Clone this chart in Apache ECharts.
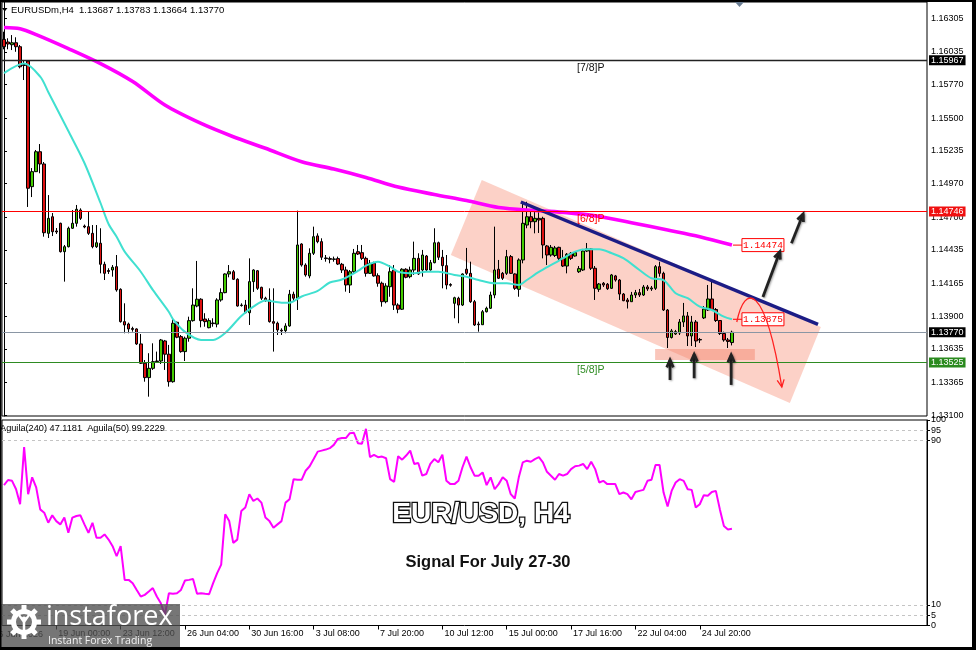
<!DOCTYPE html>
<html><head><meta charset="utf-8">
<script src="https://cdn.jsdelivr.net/npm/echarts@6/dist/echarts.min.js"></script>
<style>html,body{margin:0;padding:0;background:#fff}#c{width:976px;height:650px}</style>
</head><body><div id="c"></div>
<script>
// ---- data (OHLC rows: open, high, low, close) ----
const ohlc = [
[1.16135,1.16197,1.16055,1.16076],[1.16114,1.16144,1.16055,1.16098],[1.16092,1.16170,1.16049,1.16108],[1.16108,1.16152,1.16035,1.16076],[1.16076,1.16090,1.15901,1.15914],
[1.15932,1.15963,1.15807,1.15924],[1.15960,1.15963,1.14782,1.14933],[1.14946,1.15096,1.14862,1.15067],[1.15067,1.15242,1.15064,1.15228],[1.15228,1.15290,1.15054,1.15129],
[1.15129,1.15145,1.14542,1.14574],[1.14569,1.14878,1.14531,1.14690],[1.14703,1.14733,1.14547,1.14582],[1.14588,1.14612,1.14564,1.14580],[1.14650,1.14655,1.14414,1.14421],
[1.14421,1.14475,1.14179,1.14461],[1.14461,1.14623,1.14455,1.14610],[1.14610,1.14757,1.14604,1.14650],[1.14650,1.14798,1.14623,1.14763],[1.14757,1.14771,1.14677,1.14690],
[1.14628,1.14640,1.14610,1.14620],[1.14623,1.14744,1.14556,1.14569],[1.14569,1.14636,1.14448,1.14461],[1.14461,1.14636,1.14451,1.14493],[1.14489,1.14610,1.14246,1.14319],
[1.14319,1.14340,1.14192,1.14246],[1.14269,1.14287,1.14241,1.14261],[1.14273,1.14313,1.14219,1.14295],[1.14300,1.14394,1.14098,1.14112],[1.14117,1.14125,1.13848,1.13856],
[1.13856,1.14004,1.13762,1.13829],[1.13837,1.13848,1.13762,1.13797],[1.13801,1.13815,1.13775,1.13793],[1.13797,1.13802,1.13668,1.13676],[1.13676,1.13756,1.13514,1.13520],
[1.13520,1.13546,1.13371,1.13404],[1.13404,1.13601,1.13250,1.13479],[1.13479,1.13681,1.13466,1.13533],[1.13533,1.13614,1.13526,1.13538],[1.13538,1.13716,1.13514,1.13708],
[1.13700,1.13708,1.13466,1.13593],[1.13593,1.13668,1.13331,1.13371],[1.13371,1.13883,1.13363,1.13843],[1.13851,1.13856,1.13722,1.13730],[1.13735,1.13748,1.13605,1.13614],
[1.13614,1.13735,1.13538,1.13722],[1.13722,1.13896,1.13694,1.13864],[1.13864,1.14125,1.13856,1.13990],[1.13982,1.14346,1.13972,1.14037],[1.14037,1.14045,1.13810,1.13864],
[1.13877,1.13924,1.13815,1.13856],[1.13807,1.13883,1.13802,1.13864],[1.13845,1.13883,1.13815,1.13840],[1.13836,1.14045,1.13810,1.14031],[1.14031,1.14125,1.14017,1.14090],
[1.14090,1.14246,1.14085,1.14241],[1.14241,1.14313,1.14214,1.14259],[1.14259,1.14273,1.14192,1.14198],[1.14198,1.14206,1.13977,1.13982],[1.13986,1.14004,1.13977,1.13990],
[1.13990,1.14031,1.13924,1.13928],[1.13928,1.14367,1.13829,1.14179],[1.14179,1.14279,1.14096,1.14273],[1.14267,1.14273,1.14112,1.14125],[1.14133,1.14138,1.14031,1.14045],
[1.14045,1.14057,1.14017,1.14025],[1.14031,1.14125,1.13848,1.13856],[1.13856,1.14125,1.13614,1.13843],[1.13843,1.13856,1.13748,1.13789],[1.13787,1.13802,1.13748,1.13781],
[1.13783,1.13843,1.13762,1.13821],[1.13821,1.14112,1.13815,1.14077],[1.14077,1.14098,1.14017,1.14045],[1.14045,1.14752,1.13950,1.14475],[1.14483,1.14489,1.14300,1.14313],
[1.14313,1.14327,1.14219,1.14233],[1.14225,1.14448,1.14206,1.14408],[1.14408,1.14623,1.14394,1.14542],[1.14548,1.14569,1.14489,1.14502],[1.14502,1.14529,1.14354,1.14376],
[1.14370,1.14394,1.14340,1.14365],[1.14365,1.14381,1.14327,1.14359],[1.14359,1.14381,1.14340,1.14362],[1.14365,1.14381,1.14313,1.14321],[1.14319,1.14330,1.14249,1.14273],
[1.14273,1.14300,1.14098,1.14152],[1.14152,1.14273,1.14087,1.14259],[1.14259,1.14443,1.14249,1.14408],[1.14421,1.14475,1.14394,1.14402],[1.14413,1.14475,1.14354,1.14367],
[1.14367,1.14381,1.14219,1.14246],[1.14246,1.14354,1.14241,1.14327],[1.14327,1.14340,1.14219,1.14225],[1.14227,1.14246,1.14138,1.14166],[1.14166,1.14179,1.13977,1.14017],
[1.14017,1.14166,1.14004,1.14144],[1.14138,1.14313,1.14057,1.14259],[1.14273,1.14313,1.13950,1.13990],[1.13990,1.14004,1.13924,1.13956],[1.13956,1.14287,1.13950,1.14279],
[1.14279,1.14287,1.14206,1.14214],[1.14219,1.14300,1.14206,1.14273],[1.14273,1.14502,1.14233,1.14367],[1.14367,1.14408,1.14233,1.14241],[1.14273,1.14435,1.14219,1.14394],
[1.14386,1.14394,1.14259,1.14273],[1.14273,1.14354,1.14267,1.14332],[1.14332,1.14610,1.14327,1.14493],[1.14493,1.14502,1.14354,1.14376],[1.14376,1.14435,1.14125,1.14308],
[1.14308,1.14394,1.14117,1.14152],[1.14156,1.14166,1.14138,1.14150],[1.14004,1.14057,1.13883,1.14049],[1.14045,1.14057,1.13843,1.13990],[1.13990,1.14246,1.13982,1.14241],
[1.14279,1.14451,1.14233,1.14246],[1.14246,1.14340,1.14007,1.14017],[1.14017,1.14031,1.13821,1.13829],[1.13837,1.13856,1.13775,1.13831],[1.13831,1.13950,1.13829,1.13936],
[1.13936,1.13977,1.13930,1.13964],[1.13964,1.14098,1.13958,1.14071],[1.14071,1.14623,1.14045,1.14273],[1.14279,1.14354,1.14200,1.14206],[1.14246,1.14257,1.14192,1.14206],
[1.14246,1.14435,1.14233,1.14381],[1.14381,1.14394,1.14241,1.14246],[1.14241,1.14246,1.14112,1.14125],[1.14117,1.14367,1.14057,1.14354],[1.14354,1.14824,1.14327,1.14650],
[1.14636,1.14824,1.14610,1.14703],[1.14703,1.14757,1.14610,1.14663],[1.14663,1.14771,1.14569,1.14690],[1.14690,1.14766,1.14572,1.14677],[1.14690,1.14703,1.14367,1.14475],
[1.14467,1.14475,1.14313,1.14394],[1.14394,1.14475,1.14381,1.14456],[1.14390,1.14467,1.14378,1.14451],[1.14456,1.14461,1.14354,1.14367],[1.14367,1.14435,1.14297,1.14305],
[1.14305,1.14410,1.14246,1.14400],[1.14408,1.14418,1.14354,1.14367],[1.14386,1.14426,1.14381,1.14413],[1.14259,1.14305,1.14249,1.14284],[1.14273,1.14443,1.14265,1.14426],
[1.14426,1.14491,1.14418,1.14443],[1.14443,1.14448,1.14273,1.14287],[1.14287,1.14305,1.14031,1.14125],[1.14117,1.14168,1.14096,1.14160],[1.14166,1.14176,1.14136,1.14152],
[1.14158,1.14168,1.14112,1.14122],[1.14125,1.14241,1.14120,1.14233],[1.14225,1.14233,1.14179,1.14192],[1.14192,1.14200,1.14031,1.14079],[1.14079,1.14087,1.14021,1.14025],
[1.14031,1.14047,1.13962,1.14017],[1.14017,1.14096,1.14015,1.14071],[1.14071,1.14112,1.14047,1.14090],[1.14090,1.14120,1.14055,1.14071],[1.14071,1.14152,1.14063,1.14136],
[1.14136,1.14152,1.14104,1.14120],[1.14120,1.14144,1.14104,1.14128],[1.14125,1.14313,1.14112,1.14300],[1.14300,1.14340,1.14219,1.14246],[1.14246,1.14259,1.13942,1.13950],
[1.13950,1.13958,1.13643,1.13728],[1.13728,1.13797,1.13720,1.13781],[1.13756,1.13789,1.13748,1.13775],[1.13764,1.13877,1.13748,1.13853],[1.13853,1.14007,1.13813,1.13902],
[1.13902,1.13934,1.13659,1.13740],[1.13740,1.13902,1.13659,1.13853],[1.13853,1.13869,1.13651,1.13700],[1.13712,1.13724,1.13684,1.13708],[1.13886,1.13982,1.13877,1.13958],
[1.13950,1.14152,1.13942,1.14039],[1.14039,1.14176,1.13942,1.13954],[1.13954,1.13966,1.13853,1.13865],[1.13865,1.13869,1.13748,1.13760],[1.13760,1.13775,1.13694,1.13708],
[1.13708,1.13724,1.13643,1.13696],[1.13687,1.13783,1.13664,1.13770]
];
// Aguila(240) oscillator, one value per bar
const aguila240 = [
68.3,70.8,70.4,66.3,59,86.8,63.9,72.1,67.2,56.5,
54.9,50,53.6,50.8,49.2,52.5,45.1,52.5,53.3,53.6,
49.2,45.1,50,42.7,42.7,44.3,41.8,38.6,33.7,38.6,
22.2,22.2,20.6,17.3,14.1,14.9,16.5,18.2,14.1,10.8,
5.1,15.7,15.4,15.7,17.3,21.9,22.2,22.6,15.4,15.7,
15.4,15.2,20.6,25.5,29.6,54.1,50.8,40.2,41.8,55.7,
57.4,63.9,60.6,61.8,59.8,52.5,50.8,47.6,49.2,50.8,
59.8,61.4,71.2,70.9,70.9,75.3,77.5,81,84.6,85.1,
85.6,86.3,87.9,90.8,91.2,91.2,93.6,93.8,88.7,88.4,
95.7,81.9,83,81.9,82.2,81.4,71.2,69.9,82.4,80.7,
82.7,85.1,78.6,79.1,72.9,73.7,78.6,81,79.4,83.1,
70.4,68.8,68.8,70.4,77,82.2,77,72.9,72.9,74.5,
68.3,72.1,66.3,68.8,72.1,70.4,63.9,61.8,72.1,79.4,
80.2,79.7,81,81.9,79.4,74.8,72.9,70.9,73.7,72.9,
73.7,76.1,77.5,77.8,78.6,76.1,79.7,76.1,69.6,70.4,
68.8,68.8,68.8,63.9,64.7,63.9,61.4,65,65.5,66,
70.4,70.9,78.1,78.1,64.7,57.9,65.5,69.6,71.2,70.4,
66.3,66,57.4,59,63.4,63.1,65,65.5,56.5,48.4,
46.7,47.1
];
// moving averages read at sample bars: [bar index, value]
const maSlow = [[0,1.16231],[4,1.16221],[8,1.16174],[16,1.16061],[24,1.15940],[32,1.15795],[40,1.15605],[49,1.15456],[57,1.15349],[65,1.15256],[74,1.15147],[82,1.15088],[90,1.15020],[98,1.14943],[107,1.14883],[115,1.14834],[123,1.14778],[132,1.14753],[140,1.14736],[148,1.14705],[156,1.14655],[165,1.14596],[173,1.14542],[181,1.14474]];
const maFast = [[0,1.15863],[5,1.15940],[9,1.15834],[11,1.15710],[16,1.15395],[20,1.15137],[24,1.14814],[26,1.14644],[28,1.14542],[30,1.14421],[34,1.14259],[37,1.14112],[41,1.13934],[42,1.13877],[45,1.13773],[49,1.13708],[52,1.13708],[55,1.13764],[59,1.13902],[62,1.13977],[65,1.14027],[69,1.14009],[71,1.14009],[74,1.14059],[78,1.14104],[81,1.14172],[84,1.14196],[88,1.14265],[90,1.14309],[93,1.14340],[96,1.14300],[98,1.14259],[102,1.14246],[105,1.14259],[108,1.14259],[112,1.14233],[115,1.14219],[118,1.14192],[122,1.14166],[125,1.14166],[128,1.14152],[130,1.14192],[133,1.14257],[137,1.14330],[139,1.14368],[142,1.14421],[145,1.14440],[148,1.14440],[151,1.14410],[154,1.14368],[158,1.14273],[161,1.14206],[164,1.14192],[167,1.14085],[170,1.14045],[173,1.13977],[176,1.13950],[179,1.13896],[181,1.13875]];
const priceTicks = [1.13100,1.13365,1.13635,1.13900,1.14165,1.14435,1.14700,1.14970,1.15235,1.15500,1.15770,1.16035,1.16305];
const oscTicks = [0,5,10,90,95,100];
const oscLevels = [5,10,90,95];
const xTickLabels = ['19 Jun 00:00','23 Jun 12:00','26 Jun 04:00','30 Jun 16:00','3 Jul 08:00','7 Jul 20:00','10 Jul 12:00','15 Jul 00:00','17 Jul 16:00','22 Jul 04:00','24 Jul 20:00'];
const levelPrices = [1.15967,1.14746,1.13525];
const levelNames = ['[7/8]P','[6/8]P','[5/8]P'];
const lastPrice = 1.13770;
const tagValues = [1.14474,1.13875];
// drawing objects in (bar index, price)
const channel = [[118.8,1.15000],[111.1,1.14394],[195.4,1.13199],[203.1,1.13813]];
const supportZone = [[161.9,1.13635],[186.7,1.13546]];
const trendLine = [[128.5,1.14822],[202.4,1.13833]];
const arrows = [[165.6,1.13385,165.6,1.13546],[171.6,1.13399,171.6,1.13592],[180.8,1.13345,180.8,1.13587],[188.7,1.14055,192.9,1.14421],[195.8,1.14489,198.7,1.14725]];
const redCurve = [[182.2,1.13853],[184.2,1.14168],[189.2,1.14168],[193.4,1.13328]];

// ---- H4 bar times (Mon-Fri + Sunday 20:00 bar) ----
const MONTHS=['Jan','Feb','Mar','Apr','May','Jun','Jul','Aug','Sep','Oct','Nov','Dec'];
function buildTimes(n){
  const out=[]; let t=Date.UTC(2026,5,16,20);
  while(out.length<n){
    const d=new Date(t), wd=d.getUTCDay(), h=d.getUTCHours();
    if((wd>=1&&wd<=5)||(wd===0&&h===20)) out.push(d.getUTCDate()+' '+MONTHS[d.getUTCMonth()]+' '+String(h).padStart(2,'0')+':00');
    t+=4*3600*1000;
  }
  return out;
}
const NSLOT=230;
const times = buildTimes(NSLOT);
const tickSet = new Set(xTickLabels);

const F='"Liberation Sans", Arial, sans-serif';
const levelColors=['#111','#ff0000','#2e8b22'];
const LABEL_IDX=142.5;

const chart = echarts.init(document.getElementById('c'));
const candleData = ohlc.map(r=>[r[0],r[3],r[2],r[1]]);

const option = {
  animation:false,
  backgroundColor:'#fff',
  grid:[
    {left:2, top:2, width:925, height:414, show:true, borderColor:'#000', borderWidth:1, backgroundColor:'#fff'},
    {left:2, top:420, width:925, height:205.5, show:true, borderColor:'#000', borderWidth:1}
  ],
  xAxis:[
    {type:'category', gridIndex:0, data:times, show:false},
    {type:'category', gridIndex:1, data:times,
      axisLine:{show:false},
      axisTick:{show:true, interval:(i,v)=>tickSet.has(v), alignWithLabel:true, length:4, lineStyle:{color:'#000'}},
      axisLabel:{interval:(i,v)=>tickSet.has(v), align:'left', margin:4, padding:[0,0,0,2], color:'#000', fontSize:9, fontFamily:F},
      splitLine:{show:false}},
    {type:'value', gridIndex:0, min:-0.5, max:NSLOT-0.5, show:false}
  ],
  yAxis:[
    {type:'value', gridIndex:0, position:'right', min:1.13094, max:1.16437, scale:true,
      axisLine:{show:true, lineStyle:{color:'#000'}},
      axisTick:{show:true, length:3, customValues:priceTicks, lineStyle:{color:'#000'}},
      axisLabel:{customValues:priceTicks, formatter:v=>v.toFixed(5), color:'#000', fontSize:9, fontFamily:F, margin:4},
      splitLine:{show:false}},
    {type:'value', gridIndex:1, position:'right', min:0, max:100,
      axisLine:{show:true, lineStyle:{color:'#000'}},
      axisTick:{show:true, length:3, customValues:oscTicks, lineStyle:{color:'#000'}},
      axisLabel:{customValues:oscTicks, showMinLabel:true, showMaxLabel:true, hideOverlap:false, color:'#000', fontSize:9, fontFamily:F, margin:4},
      splitLine:{show:false}}
  ],
  series:[
    {type:'custom', name:'channel', xAxisIndex:2, yAxisIndex:0, z:1, silent:true, data:[[150,1.14]],
      renderItem:(p,api)=>({type:'polygon', shape:{points:channel.map(c=>api.coord(c))}, style:{fill:'rgba(247,140,115,0.40)'}})},
    {type:'custom', name:'zone', xAxisIndex:2, yAxisIndex:0, z:1, silent:true, data:[[170,1.136]],
      renderItem:(p,api)=>{const a=api.coord(supportZone[0]), b=api.coord(supportZone[1]);
        return {type:'rect', shape:{x:a[0], y:a[1], width:b[0]-a[0], height:b[1]-a[1]}, style:{fill:'rgba(245,128,105,0.45)'}};}},
    {type:'candlestick', xAxisIndex:0, yAxisIndex:0, z:2, silent:true, data:candleData, barWidth:3,
      itemStyle:{color:'#44cc00', color0:'#dd1111', borderColor:'#000', borderColor0:'#000', borderWidth:1},
      markLine:{symbol:'none', silent:true, precision:5,
        label:{show:true, position:'end', distance:2, color:'#fff', fontSize:9, fontFamily:F, padding:[1,2,0,2], formatter:p=>Number(p.value).toFixed(5)},
        data:[
          {yAxis:1.15967, lineStyle:{color:'#222', width:1.3, type:'solid'}, label:{backgroundColor:'#000'}},
          {yAxis:levelPrices[1], lineStyle:{color:'#ff0000', width:1, type:'solid'}, label:{backgroundColor:'#f01010'}},
          {yAxis:lastPrice, lineStyle:{color:'#8a96a4', width:1, type:'solid'}, label:{backgroundColor:'#000'}},
          {yAxis:levelPrices[2], lineStyle:{color:'#2e8b22', width:1, type:'solid'}, label:{backgroundColor:'#2a8a1e'}}
        ]}},
    {type:'line', name:'MA slow', xAxisIndex:2, yAxisIndex:0, z:3, silent:true, data:maSlow, symbol:'none', smooth:0.3,
      lineStyle:{color:'#ff00ff', width:3.6}},
    {type:'line', name:'MA fast', xAxisIndex:2, yAxisIndex:0, z:3, silent:true, data:maFast, symbol:'none', smooth:0.3,
      lineStyle:{color:'#40e0d0', width:2}},
    {type:'line', name:'trend', xAxisIndex:2, yAxisIndex:0, z:4, silent:true, data:trendLine, symbol:'none',
      lineStyle:{color:'#1c1c85', width:3.5}},
    {type:'custom', name:'levelText', xAxisIndex:2, yAxisIndex:0, z:4, silent:true,
      data:levelPrices.map((v,i)=>[LABEL_IDX,v,i]),
      renderItem:(p,api)=>{const pt=api.coord([api.value(0),api.value(1)]); const i=api.value(2);
        return {type:'text', x:pt[0], y:pt[1]+2, style:{text:levelNames[i], fill:levelColors[i], font:'10.5px '+F, align:'left', verticalAlign:'top'}};}},
    {type:'custom', name:'tags', xAxisIndex:2, yAxisIndex:0, z:5, silent:true,
      data:tagValues.map(v=>[ohlc.length-1, v]),
      renderItem:(p,api)=>{const pt=api.coord([api.value(0),api.value(1)]); const x=pt[0]+10, y=pt[1];
        return {type:'group', children:[
          {type:'line', shape:{x1:pt[0]+1,y1:y,x2:x,y2:y}, style:{stroke:'#ff0000', lineWidth:1}},
          {type:'rect', shape:{x:x, y:y-6.5, width:42, height:13}, style:{fill:'#fff', stroke:'#ff0000', lineWidth:1}},
          {type:'text', x:x+21, y:y+0.5, style:{text:api.value(1).toFixed(5), fill:'#ff0000', font:'9.5px "Liberation Mono", monospace', align:'center', verticalAlign:'middle'}}
        ]};}},
    {type:'custom', name:'arrows', xAxisIndex:2, yAxisIndex:0, z:6, silent:true, data:arrows,
      dimensions:['x1','y1','x2','y2'], encode:{x:[0,2], y:[1,3]},
      renderItem:(p,api)=>{
        const a=api.coord([api.value(0),api.value(1)]), b=api.coord([api.value(2),api.value(3)]);
        const ang=Math.atan2(b[1]-a[1], b[0]-a[0]), L=8, w=0.42;
        const h1=[b[0]-L*Math.cos(ang-w), b[1]-L*Math.sin(ang-w)], h2=[b[0]-L*Math.cos(ang+w), b[1]-L*Math.sin(ang+w)];
        const st={stroke:'#222', lineWidth:2.8, fill:null, shadowColor:'rgba(0,0,0,0.35)', shadowBlur:2, shadowOffsetX:1, shadowOffsetY:1};
        return {type:'group', children:[
          {type:'line', shape:{x1:a[0],y1:a[1],x2:b[0],y2:b[1]}, style:st},
          {type:'polyline', shape:{points:[h1,b,h2]}, style:st}
        ]};}},
    {type:'custom', name:'curve', xAxisIndex:2, yAxisIndex:0, z:6, silent:true, data:[[188,1.138]],
      renderItem:(p,api)=>{
        const q=redCurve.map(c=>api.coord(c));
        const ang=Math.atan2(q[3][1]-q[2][1], q[3][0]-q[2][0]), L=8, w=0.45;
        const b=q[3];
        const h1=[b[0]-L*Math.cos(ang-w), b[1]-L*Math.sin(ang-w)], h2=[b[0]-L*Math.cos(ang+w), b[1]-L*Math.sin(ang+w)];
        return {type:'group', children:[
          {type:'bezierCurve', shape:{x1:q[0][0],y1:q[0][1],cpx1:q[1][0],cpy1:q[1][1],cpx2:q[2][0],cpy2:q[2][1],x2:q[3][0],y2:q[3][1]}, style:{stroke:'#ff2020', lineWidth:1.3, fill:null}},
          {type:'polyline', shape:{points:[h1,b,h2]}, style:{stroke:'#ff2020', lineWidth:1.3, fill:null}}
        ]};}},
    {type:'line', name:'Aguila(240)', xAxisIndex:1, yAxisIndex:1, silent:true, data:aguila240, symbol:'none',
      lineStyle:{color:'#ff00ff', width:2},
      markLine:{symbol:'none', silent:true, label:{show:false},
        lineStyle:{color:'#c4c4c4', type:[3,3], width:1},
        data:oscLevels.map(v=>({yAxis:v}))}}
  ],
  graphic:{elements:[
    {type:'polygon', shape:{points:[[2,8],[7.5,8],[4.75,11.5]]}, style:{fill:'#000'}, z:50},
    {type:'text', x:11, y:10, style:{text:'EURUSDm,H4  1.13687 1.13783 1.13664 1.13770', font:'9.5px '+F, fill:'#000', verticalAlign:'middle'}, z:50},
    {type:'polygon', shape:{points:[[735,2],[744,2],[739.5,7]]}, style:{fill:'#6a7d93'}, z:50},
    {type:'text', x:0, y:428, style:{text:'Aguila(240) 47.1181  Aguila(50) 99.2229', font:'9.2px '+F, fill:'#000', verticalAlign:'middle'}, z:50},
    {type:'text', x:-6.5, y:635, style:{text:'16 Jun 2026', font:'9px '+F, fill:'#000', verticalAlign:'middle'}, z:50},
    {type:'text', x:481, y:514, style:{text:'EUR/USD, H4', font:'bold 28px '+F, fill:'#fff', stroke:'#111', lineWidth:2.6, align:'center', verticalAlign:'middle', shadowColor:'rgba(0,0,0,0.6)', shadowBlur:4, shadowOffsetX:2, shadowOffsetY:3}, z:60},
    {type:'text', x:488, y:562, style:{text:'Signal For July 27-30', font:'bold 16.5px '+F, fill:'#111', align:'center', verticalAlign:'middle', shadowColor:'rgba(0,0,0,0.45)', shadowBlur:3, shadowOffsetX:2, shadowOffsetY:2}, z:60},
    {type:'rect', shape:{x:0,y:604,width:180,height:46}, style:{fill:'rgba(80,80,80,0.78)'}, z:100},
    {type:'group', x:24, y:622, z:101, children:[
      {type:'circle', shape:{cx:0,cy:0,r:10.5}, style:{fill:'none', stroke:'#fff', lineWidth:5}, z:101},
      ...[0,1,2,3,4,5,6,7].map(k=>({type:'rect', shape:{x:-2.5,y:-17,width:5,height:6}, rotation:-k*Math.PI/4, style:{fill:'#fff'}, z:101})),
      {type:'circle', shape:{cx:0,cy:-3,r:2.5}, style:{fill:'#fff'}, z:101},
      {type:'polyline', shape:{points:[[-5,-7],[0,0],[5,-7]]}, style:{stroke:'#fff', lineWidth:2.2, fill:null}, z:101},
      {type:'line', shape:{x1:0,y1:0,x2:0,y2:9}, style:{stroke:'#fff', lineWidth:2.5}, z:101}
    ]},
    {type:'text', x:46, y:617, style:{text:'instaforex', font:'27px "Open Sans", '+F, fill:'#fff', verticalAlign:'middle'}, z:101},
    {type:'text', x:48, y:641, style:{text:'Instant Forex Trading', font:'10.5px "Open Sans", '+F, fill:'#f2f2f2', verticalAlign:'middle'}, z:101},
    {type:'rect', shape:{x:0,y:0,width:976,height:2}, style:{fill:'#000'}, z:120},
    {type:'rect', shape:{x:972,y:0,width:4,height:650}, style:{fill:'#000'}, z:120},
    {type:'rect', shape:{x:0,y:647,width:976,height:3}, style:{fill:'#000'}, z:120},
    {type:'rect', shape:{x:0,y:0,width:1.5,height:650}, style:{fill:'#000'}, z:120}
  ]}
};
chart.setOption(option);
</script>
</body></html>
